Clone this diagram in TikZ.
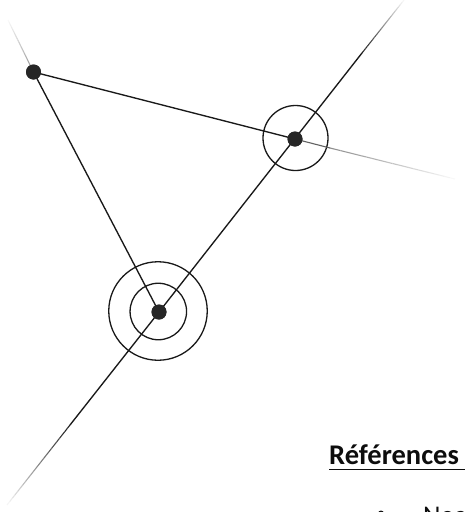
\documentclass[tikz,border=0pt]{standalone}
\usepackage{fontspec}
\setmainfont{Carlito}
\usetikzlibrary{calc}
\tikzset{
  every picture/.style={x=1pt,y=-1pt},
  dotnode/.style={circle,fill=black!85,draw=none,minimum size=15pt,inner sep=0pt},
  ringnode/.style={circle,draw=black!90,line width=1.3pt,fill=none,inner sep=0pt},
  edgeline/.style={draw=black!90,line width=1.35pt},
  lbl/.style={inner sep=0pt,anchor=base west,text=black!95}
}
\newcommand{\fadeline}[4]{% from, to, start grey, end grey
  \foreach \i in {1,...,24}{
    \pgfmathsetmacro{\gv}{#3+(#4-#3)*(\i-0.5)/24}
    \draw[draw=black!\gv,line width=1.1pt,line cap=butt] ($(#1)!{(\i-1)/24}!(#2)$) -- ($(#1)!{\i/24}!(#2)$);
  }
}
\begin{document}
\begin{tikzpicture}
\useasboundingbox (0,0) rectangle (465,512);
\clip (0,0) rectangle (465,512);
\coordinate (aend) at (8,20);
\coordinate (bend) at (455,179);
\coordinate (bmid) at (330,148);
\coordinate (cupstart) at (362,53);
\coordinate (cup) at (404,0);
\coordinate (cdownstart) at (70,425);
\coordinate (cdown) at (7,505);
\coordinate (ruleend) at (465,469.5);
\node[dotnode] (a) at (33.5,72) {};
\node[dotnode] (b) at (295,139) {};
\node[dotnode] (c) at (159,312) {};
\node[ringnode,minimum size=56.5pt] (r1) at (158.3,311.5) {};
\node[ringnode,minimum size=98.5pt] (r2) at (158,311) {};
\node[ringnode,minimum size=65pt] (r3) at (295.5,138) {};
\draw[edgeline] (a.center) -- (c.center);
\draw[edgeline] (a.center) -- (b.center);
\draw[edgeline] (c.center) -- (cupstart);
\draw[edgeline] (c.center) -- (cdownstart);
\draw[draw=black!62,line width=1.1pt] (b.center) -- (bmid);
\fadeline{bmid}{bend}{45}{2}
\fadeline{a.center}{aend}{42}{2}
\fadeline{cupstart}{cup}{90}{2}
\fadeline{cdownstart}{cdown}{90}{2}
\node[dotnode] at (a) {};
\node[dotnode] at (b) {};
\node[dotnode] at (c) {};
\node[lbl,font=\fontsize{28.5}{30}\selectfont\bfseries] (ref) at (329,464.5) {Références};
\draw[draw=black!95,line width=1.7pt] (ref.base west |- ruleend) -- (ruleend);
\node[lbl,font=\fontsize{27}{30}\selectfont] (nea) at (423,524) {Nea};
\node[circle,fill=black!92,minimum size=6pt,inner sep=0pt] (bul) at (381,513.5) {};
\end{tikzpicture}
\end{document}
